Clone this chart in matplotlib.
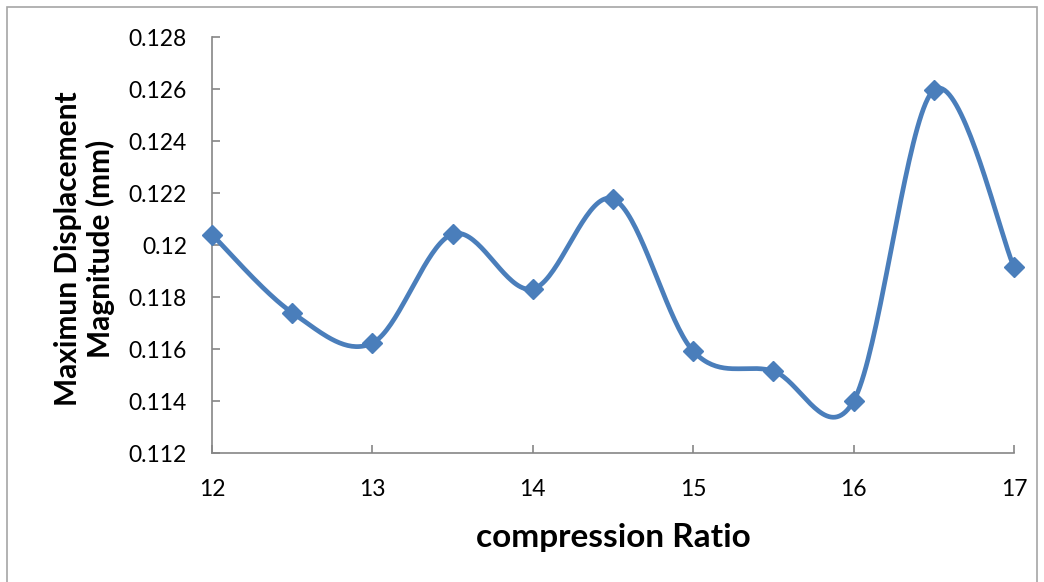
import numpy as np
import matplotlib
matplotlib.use("Agg")
import matplotlib.pyplot as plt
from matplotlib.patches import Rectangle

# Data
compression_ratio = [12, 12.5, 13, 13.5, 14, 14.5, 15, 15.5, 16, 16.5, 17]
max_displacement = [0.1204, 0.1174, 0.11623, 0.12042, 0.11831, 0.12177,
                    0.11592, 0.11515, 0.1140, 0.12596, 0.11915]
x_ticks = [12, 13, 14, 15, 16, 17]
y_ticks = [0.112, 0.114, 0.116, 0.118, 0.120, 0.122, 0.124, 0.126, 0.128]
y_tick_labels = ["0.112", "0.114", "0.116", "0.118", "0.12", "0.122",
                 "0.124", "0.126", "0.128"]

LINE_BLUE = "#4a7ebb"
AXIS_GRAY = "#868686"
FONT = ["Lato", "DejaVu Sans"]

plt.rcParams["font.family"] = FONT

fig = plt.figure(figsize=(10.44, 5.82), dpi=100)
ax = fig.add_axes([212 / 1044, 1 - 453 / 582, 802 / 1044, 416 / 582])
ax.set_xlim(12, 17)
ax.set_ylim(0.112, 0.128)


def smooth_curve(xs, ys, ax, samples=40):
    """Catmull-Rom style Bezier smoothing computed in screen space."""
    fig.canvas.draw()
    pts = ax.transData.transform(np.column_stack([xs, ys]))
    n = len(pts)
    out = []
    for i in range(n - 1):
        p0 = pts[i - 1] if i > 0 else pts[i]
        p1 = pts[i]
        p2 = pts[i + 1]
        p3 = pts[i + 2] if i + 2 < n else pts[i + 1]
        c1 = p1 + (p2 - p0) / 6.0
        c2 = p2 - (p3 - p1) / 6.0
        t = np.linspace(0, 1, samples)[:, None]
        seg = ((1 - t) ** 3) * p1 + 3 * ((1 - t) ** 2) * t * c1 \
            + 3 * (1 - t) * t ** 2 * c2 + t ** 3 * p2
        out.append(seg if i == 0 else seg[1:])
    curve = np.vstack(out)
    data = ax.transData.inverted().transform(curve)
    return data[:, 0], data[:, 1]


cx, cy = smooth_curve(compression_ratio, max_displacement, ax)
ax.plot(cx, cy, color=LINE_BLUE, lw=3.4, solid_capstyle="round", zorder=3)
ax.plot(compression_ratio, max_displacement, linestyle="none", marker="D",
        ms=10, color=LINE_BLUE, zorder=4, clip_on=False)

for side in ("top", "right"):
    ax.spines[side].set_visible(False)
for side in ("left", "bottom"):
    ax.spines[side].set_color(AXIS_GRAY)
    ax.spines[side].set_linewidth(1.2)

ax.set_xticks(x_ticks)
ax.set_xticklabels([str(v) for v in x_ticks])
ax.set_yticks(y_ticks)
ax.set_yticklabels(y_tick_labels)
ax.tick_params(axis="both", direction="in", length=6, width=1.2,
               color=AXIS_GRAY, labelsize=16.5, labelcolor="black")
ax.tick_params(axis="y", pad=18)
ax.tick_params(axis="x", pad=19)

ax.set_xlabel("compression Ratio", fontsize=24, fontweight="bold", labelpad=16)
ax.set_ylabel("Maximun Displacement\nMagnitude (mm)", fontsize=21.5,
              fontweight="bold", linespacing=1.15)
ax.yaxis.set_label_coords(-0.121, 0.49)

# Chart-area border
fig.add_artist(Rectangle((7 / 1044, -0.05), 1030 / 1044, 1.05 - 7 / 582,
                         transform=fig.transFigure, fill=False,
                         edgecolor="#a6a6a6", lw=1.2))

fig.savefig("out.png", dpi=100, facecolor="white")
